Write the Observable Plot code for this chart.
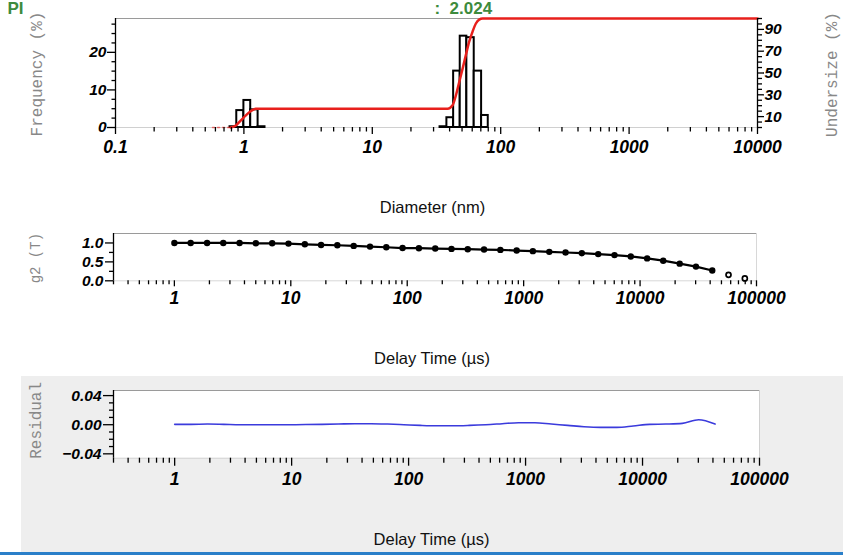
<!DOCTYPE html>
<html><head><meta charset="utf-8">
<script src="https://cdn.jsdelivr.net/npm/d3@7"></script>
<script src="https://cdn.jsdelivr.net/npm/@observablehq/plot@0.6"></script>
<style>
html,body{margin:0;padding:0;background:#fff;}
#wrap{position:relative;width:843px;height:555px;overflow:hidden;background:#fff;}
#wrap > svg{position:absolute;}
#bluebar{position:absolute;left:0;top:552px;width:843px;height:3px;background:#2a7fc9;}
</style></head><body><div id="wrap"><div id="bluebar"></div></div>
<script>
// ---------- data ----------
// size distribution histogram (Diameter nm, Frequency %)
const binLo   = [0.78, 0.88, 1.00, 1.13, 1.29, 33.7, 38.1, 43.0, 48.4, 54.5, 62.2, 71.0];
const binHi   = [0.88, 1.00, 1.13, 1.29, 1.46, 38.1, 43.0, 48.4, 54.5, 62.2, 71.0, 80.0];
const binFreq = [0.2,  4.5,  7.2,  4.7,  0.2,  0.2,  2.6, 15.0, 24.3, 23.9, 15.0,  3.2];
// cumulative undersize curve (%)
const cumDiam  = [0.57, 0.79, 0.866, 0.947, 1.036, 1.134, 1.24, 1.46, 38.6, 42.2, 44.8, 47.6, 50.5, 53.6, 56.9, 60.4, 64.1, 68.0, 72.3, 80, 10000];
const cumUnder = [0,    0,    1.9,   6.5,   11.1,  15.1,  17.3, 17.3, 17.3, 20.4, 29.6, 42.0, 54.0, 66.7, 79.0, 88.0, 95.4, 99.0, 100, 100, 100];
// correlation function g2 vs delay time (µs)
const delay = [1, 1.38, 1.91, 2.63, 3.63, 5.01, 6.92, 9.55, 13.2, 18.2, 25.1, 34.7, 47.9, 66.1, 91.2, 126, 174, 240, 331, 457, 631, 871, 1200, 1660, 2290, 3160, 4370, 6030, 8320, 11500, 15800, 21900, 30200, 41700];
const g2 = [1.0, 1.0, 1.0, 1.0, 1.0, 0.991, 0.991, 0.983, 0.965, 0.948, 0.939, 0.922, 0.904, 0.887, 0.865, 0.861, 0.852, 0.843, 0.835, 0.826, 0.817, 0.800, 0.783, 0.765, 0.748, 0.730, 0.705, 0.679, 0.644, 0.592, 0.531, 0.453, 0.375, 0.271];
const delayOpen = [57500, 79400];
const g2Open = [0.158, 0.063];
// fit residual
const residual = [0.0005, 0.0005, 0.0009, 0.0005, 0, 0, 0, 0, 0.0002, 0.0005, 0.0009, 0.0014, 0.0014, 0.0009, 0, -0.0009, -0.0014, -0.0014, -0.0009, 0, 0.0014, 0.0028, 0.0028, 0.0009, -0.0009, -0.0028, -0.0037, -0.0037, -0.0018, 0.0005, 0.0009, 0.0018, 0.0069, 0.0009];

// axes / ticks
const diamDomain = [0.1, 10000];
const freqDomain = [0, 29];
const undersizeMax = 100;
const freqMajor = [0, 10, 20];
const freqMinor = [2.5, 5, 7.5, 12.5, 15, 17.5, 22.5, 25, 27.5];
const underLabels = [10, 30, 50, 70, 90];
const underMinor = [0, 5, 15, 20, 25, 35, 40, 45, 55, 60, 65, 75, 80, 85, 95, 100];
const delayDomain = [0.3, 100000];
const g2Domain = [0, 1.25];
const g2Major = [0, 0.5, 1.0];
const g2Minor = [0.25, 0.75];
const resDomain = [-0.046, 0.047];
const resMajor = [-0.04, 0, 0.04];
const resMinor = [-0.03, -0.02, -0.01, 0.01, 0.02, 0.03];
const decades1 = [0.1, 1, 10, 100, 1000, 10000];
const decades2 = [1, 10, 100, 1000, 10000, 100000];

const titleLeft = "PI";
const titleValue = ":  2.024";
const freqLabel = "Frequency (%)";
const underLabel = "Undersize (%)";
const diamLabel = "Diameter (nm)";
const g2Label = "g2 (T)";
const resLabel = "Residual";
const delayLabel = "Delay Time (µs)";

// ---------- helpers ----------
const tickFont = {fontFamily: "'Liberation Sans', Arial, sans-serif", fontWeight: "bold", fontStyle: "italic"};
const monoFont = "'Liberation Mono', 'Courier New', monospace";
const sansFont = "'Liberation Sans', Arial, sans-serif";
const xTickSize = 17.5, yTickSize = 15.5;
const toFreq = u => u * freqDomain[1] / undersizeMax;
const fromFreq = f => Math.round(f * undersizeMax / freqDomain[1]);
const minorLog = (dom, majors) => d3.scaleLog().domain(dom).ticks().filter(t => !majors.some(m => Math.abs(m - t) / m < 1e-6));
const fmtPlain = d => String(d);
const blank = () => "";
const wrap = document.getElementById("wrap");
function place(svg, left, top) {
  svg.style.left = left + "px"; svg.style.top = top + "px"; svg.style.position = "absolute";
  wrap.appendChild(svg);
}

// ---------- panel 1: size distribution ----------
const bins = binLo.map((lo, i) => ({lo, hi: binHi[i], f: binFreq[i]}));
const cum = cumDiam.map((d, i) => ({d, u: toFreq(cumUnder[i])}));
const p1 = Plot.plot({
  width: 843, height: 225,
  marginTop: 18, marginBottom: 98, marginLeft: 115, marginRight: 86,
  x: {type: "log", domain: diamDomain, label: null},
  y: {domain: freqDomain, label: null},
  style: {background: "transparent", overflow: "visible"},
  marks: [
    Plot.frame({stroke: "#d0d0d0"}),
    Plot.ruleY([freqDomain[1]], {stroke: "#9a9a9a"}),
    Plot.rect(bins, {x1: "lo", x2: "hi", y1: 0, y2: "f", fill: "white", stroke: "black", strokeWidth: 2}),
    Plot.line(cum.slice(0, 2), {x: "d", y: "u", stroke: "#e8201c", strokeWidth: 1.5, strokeDasharray: "2,3", strokeOpacity: 0.6}),
    Plot.line(cum.slice(1), {x: "d", y: "u", stroke: "#e8201c", strokeWidth: 2.5, curve: "monotone-x"}),
    Plot.axisX(decades1, {anchor: "bottom", tickSize: 7, tickPadding: 6, tickFormat: fmtPlain, fontSize: xTickSize, ...tickFont, strokeWidth: 1.3, label: null}),
    Plot.axisX(minorLog(diamDomain, decades1), {anchor: "bottom", tickSize: 4.5, tickFormat: blank, strokeWidth: 1.3, label: null}),
    Plot.axisY(freqMajor, {anchor: "left", tickSize: 8, tickPadding: 1, tickFormat: fmtPlain, fontSize: yTickSize, ...tickFont, strokeWidth: 1.3, label: null}),
    Plot.axisY(freqMinor, {anchor: "left", tickSize: 3.5, tickFormat: blank, strokeWidth: 1.3, label: null}),
    Plot.axisY(underLabels.map(toFreq), {anchor: "right", tickSize: 6, tickPadding: 1, tickFormat: fromFreq, fontSize: yTickSize, ...tickFont, strokeWidth: 1.3, label: null}),
    Plot.axisY(underMinor.map(toFreq), {anchor: "right", tickSize: 4, tickFormat: blank, strokeWidth: 1.3, label: null}),
    Plot.ruleX([diamDomain[0], diamDomain[1]], {stroke: "black", strokeWidth: 1.3}),
    Plot.text([titleLeft], {frameAnchor: "top-left", dx: -108, dy: -5, textAnchor: "start", lineAnchor: "bottom", fill: "#3d8b3d", fontWeight: "bold", fontSize: 17, fontFamily: sansFont}),
    Plot.text([titleValue], {frameAnchor: "top-left", dx: 319, dy: -5, textAnchor: "start", lineAnchor: "bottom", fill: "#3d8b3d", fontWeight: "bold", fontSize: 17, fontFamily: sansFont}),
    Plot.text([freqLabel], {frameAnchor: "left", dx: -79, dy: 1, rotate: -90, textAnchor: "middle", lineAnchor: "middle", fill: "#888", fontSize: 16, fontFamily: monoFont}),
    Plot.text([underLabel], {frameAnchor: "right", dx: 74.5, dy: 1.5, rotate: -90, textAnchor: "middle", lineAnchor: "middle", fill: "#888", fontSize: 16, fontFamily: monoFont}),
    Plot.text([diamLabel], {frameAnchor: "bottom", dx: -4, dy: 80, textAnchor: "middle", lineAnchor: "middle", fill: "#111", fontSize: 16.5, fontFamily: sansFont})
  ]
});
place(p1, 0, 0);

// ---------- panel 2: g2 correlation ----------
const g2Data = delay.map((t, i) => ({t, g: g2[i]}));
const g2OpenData = delayOpen.map((t, i) => ({t, g: g2Open[i]}));
const p2 = Plot.plot({
  width: 843, height: 151,
  marginTop: 8, marginBottom: 95.7, marginLeft: 113, marginRight: 87,
  x: {type: "log", domain: delayDomain, label: null},
  y: {domain: g2Domain, label: null},
  style: {background: "transparent", overflow: "visible"},
  marks: [
    Plot.frame({stroke: "#d8d8d8"}),
    Plot.ruleY([g2Domain[1]], {stroke: "#9a9a9a"}),
    Plot.line(g2Data, {x: "t", y: "g", stroke: "black", strokeWidth: 2.2}),
    Plot.dot(g2Data, {x: "t", y: "g", r: 3.2, fill: "black"}),
    Plot.dot(g2OpenData, {x: "t", y: "g", r: 2.5, fill: "white", stroke: "black", strokeWidth: 1.7}),
    Plot.axisX(decades2, {anchor: "bottom", tickSize: 6, tickPadding: 5, tickFormat: fmtPlain, fontSize: xTickSize, ...tickFont, strokeWidth: 1.3, label: null}),
    Plot.axisX(minorLog(delayDomain, decades2), {anchor: "bottom", tickSize: 4, tickFormat: blank, strokeWidth: 1.3, label: null}),
    Plot.axisY(g2Major, {anchor: "left", tickSize: 8, tickPadding: 2, tickFormat: d3.format(".1f"), fontSize: yTickSize, ...tickFont, strokeWidth: 1.3, label: null}),
    Plot.axisY(g2Minor, {anchor: "left", tickSize: 4, tickFormat: blank, strokeWidth: 1.3, label: null}),
    Plot.ruleX([delayDomain[0]], {stroke: "black", strokeWidth: 1.3}),
    Plot.text([g2Label], {frameAnchor: "left", dx: -78, dy: 1, rotate: -90, textAnchor: "middle", lineAnchor: "middle", fill: "#888", fontSize: 14, fontFamily: monoFont}),
    Plot.text([delayLabel], {frameAnchor: "bottom", dx: -3, dy: 77.7, textAnchor: "middle", lineAnchor: "middle", fill: "#111", fontSize: 16.5, fontFamily: sansFont})
  ]
});
place(p2, 0, 225);

// ---------- panel 3: residual ----------
const resData = delay.map((t, i) => ({t, r: residual[i]}));
const p3 = Plot.plot({
  width: 822, height: 176,
  marginTop: 14, marginBottom: 94.3, marginLeft: 92, marginRight: 84,
  x: {type: "log", domain: delayDomain, label: null},
  y: {domain: resDomain, label: null},
  style: {background: "#eeeeee", overflow: "visible"},
  marks: [
    Plot.frame({fill: "white", stroke: "#d0d0d0"}),
    Plot.ruleY([resDomain[1]], {stroke: "#9a9a9a"}),
    Plot.line(resData, {x: "t", y: "r", stroke: "#3b3bdc", strokeWidth: 1.6, curve: "monotone-x"}),
    Plot.axisX(decades2, {anchor: "bottom", tickSize: 8, tickPadding: 6, tickFormat: fmtPlain, fontSize: xTickSize, ...tickFont, strokeWidth: 1.3, label: null}),
    Plot.axisX(minorLog(delayDomain, decades2), {anchor: "bottom", tickSize: 5, tickFormat: blank, strokeWidth: 1.3, label: null}),
    Plot.axisY(resMajor, {anchor: "left", tickSize: 10, tickPadding: 2, tickFormat: d3.format(".2f"), fontSize: yTickSize, ...tickFont, strokeWidth: 1.3, label: null}),
    Plot.axisY(resMinor, {anchor: "left", tickSize: 4, tickFormat: blank, strokeWidth: 1.3, label: null}),
    Plot.ruleX([delayDomain[0]], {stroke: "black", strokeWidth: 1.3}),
    Plot.text([resLabel], {frameAnchor: "left", dx: -78, dy: -4, rotate: -90, textAnchor: "middle", lineAnchor: "middle", fill: "#888", fontSize: 16, fontFamily: monoFont}),
    Plot.text([delayLabel], {frameAnchor: "bottom", dx: -5, dy: 81.3, textAnchor: "middle", lineAnchor: "middle", fill: "#111", fontSize: 16.5, fontFamily: sansFont})
  ]
});
place(p3, 21, 376);
</script></body></html>
